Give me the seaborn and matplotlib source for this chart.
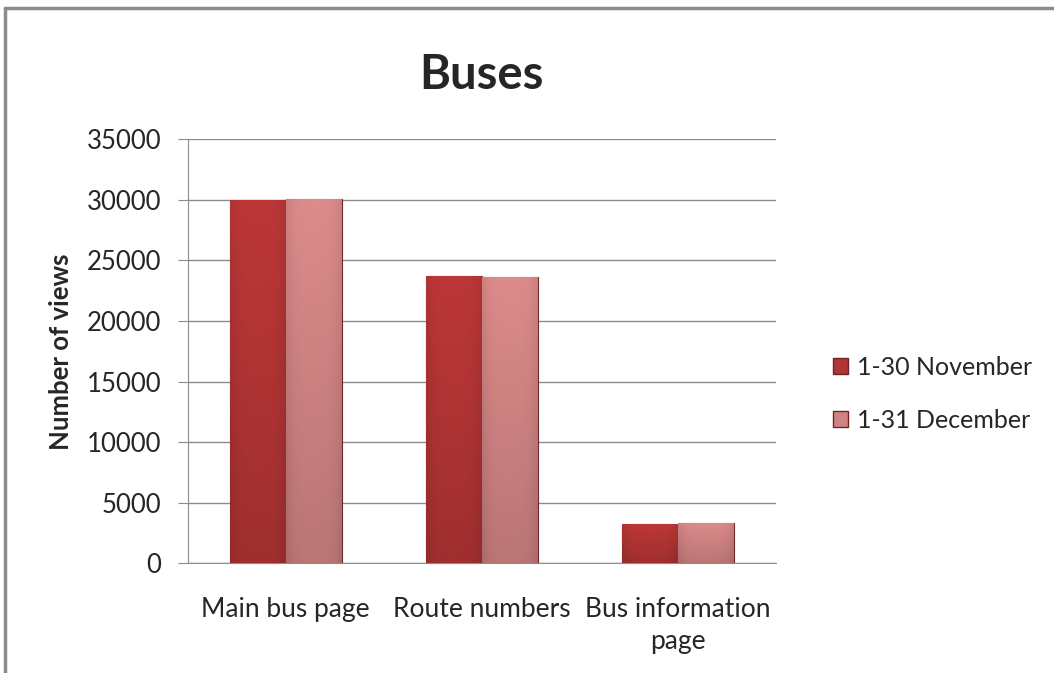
import numpy as np
import pandas as pd
import matplotlib.pyplot as plt
import matplotlib.colors as mcolors
import seaborn as sns
from matplotlib.lines import Line2D

# chart data
pages = ["Main bus page", "Route numbers", "Bus information\npage"]
periods = ["1-30 November", "1-31 December"]
november = [30000, 23700, 3220]
december = [30100, 23600, 3360]

df = pd.DataFrame({
    "page": pages * 2,
    "period": [periods[0]] * 3 + [periods[1]] * 3,
    "views": november + december,
})

sns.set_style("white")
plt.rcParams['font.family'] = ['Lato', 'DejaVu Sans']

fig = plt.figure(figsize=(10.54, 6.73), dpi=100)
ax = fig.add_axes([0.178, 0.163, 0.558, 0.630])

colors = {periods[0]: "#B23434", periods[1]: "#D08383"}
sns.barplot(data=df, x="page", y="views", hue="period", palette=colors,
            width=0.57, gap=0, edgecolor="#6e2727", linewidth=0.8, ax=ax,
            saturation=1, legend=False, zorder=3)

# soft shading on each bar (lighter top, darker bottom and sides)
for bar in ax.patches:
    x, y = bar.get_x(), bar.get_y()
    w, h = bar.get_width(), bar.get_height()
    base = np.array(mcolors.to_rgb(bar.get_facecolor()))
    v = np.linspace(0, 1, 60)[:, None, None]          # bottom -> top
    u = np.linspace(-1, 1, 30)[None, :, None]
    shade = 0.9 + 0.16 * v - 0.08 * np.abs(u) ** 4
    img = np.clip(base[None, None, :] * shade, 0, 1)
    im = ax.imshow(img, extent=[x, x + w, y, y + h], origin="lower",
                   aspect="auto", zorder=3, interpolation="bilinear")
    im.set_clip_path(bar)

ax.set_ylim(0, 35000)
ax.set_xlim(-0.5, 2.5)
ax.set_yticks(range(0, 35001, 5000))
ax.yaxis.grid(True, color="#8c8c8c", linewidth=1)
ax.set_axisbelow(True)

# ticks at category boundaries
ax.set_xticks([-0.5, 0.5, 1.5, 2.5], minor=True)
ax.tick_params(axis="x", which="major", length=0, labelsize=19, pad=24)
for lab in ax.get_xticklabels():
    lab.set_linespacing(1.35)
ax.tick_params(axis="x", which="minor", length=7, color="#8c8c8c", direction="out")
ax.tick_params(axis="y", length=7, color="#8c8c8c", direction="out", labelsize=18.5,
               left=True, pad=12)

ax.set_xlabel("")
ax.set_ylabel("Number of views", fontsize=18.5, fontweight="bold", labelpad=10)
ax.set_title("Buses", fontsize=34, fontweight="bold", pad=36)

for s in ["top", "right"]:
    ax.spines[s].set_visible(False)
for s in ["left", "bottom"]:
    ax.spines[s].set_color("#8c8c8c")

handles = [plt.Rectangle((0, 0), 1, 1, facecolor=colors[p], edgecolor="#6e2727") for p in periods]
fig.legend(handles, periods, loc="center left", bbox_to_anchor=(0.769, 0.415),
           frameon=False, fontsize=18, handlelength=0.6, handleheight=0.6,
           handletextpad=0.35, labelspacing=1.2)

# outer chart border
fig.add_artist(Line2D([0.005, 0.005], [0, 0.988], color="#8c8c8c", linewidth=2.5))
fig.add_artist(Line2D([0.005, 1.0], [0.988, 0.988], color="#8c8c8c", linewidth=2.5))

fig.savefig("out.png", dpi=100)
